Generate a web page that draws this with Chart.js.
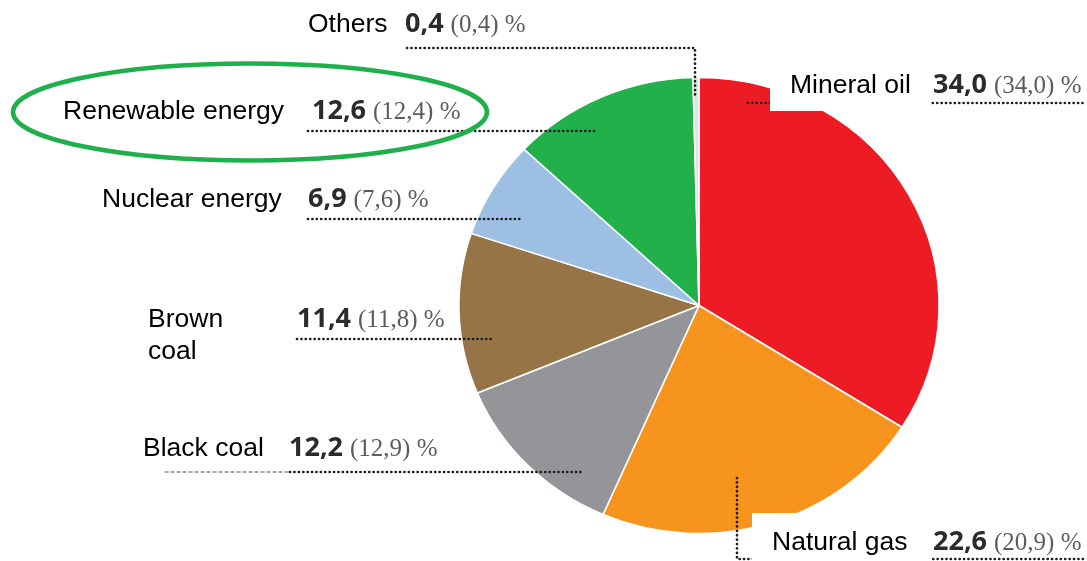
<!DOCTYPE html>
<html>
<head>
<meta charset="utf-8">
<script src="https://cdn.jsdelivr.net/npm/chart.js@4/dist/chart.umd.min.js"></script>
<style>
  html, body { margin: 0; padding: 0; background: #fff; }
  #wrap { position: relative; width: 1087px; height: 561px; }
</style>
</head>
<body>
<div id="wrap"><canvas id="c"></canvas></div>
<script>
// ---- data ----
const categories = ['Mineral oil', 'Natural gas', 'Black coal', 'Brown coal', 'Nuclear energy', 'Renewable energy', 'Others'];
const shares     = [34.0, 22.6, 12.2, 11.4, 6.9, 12.6, 0.4];
const previous   = [34.0, 20.9, 12.9, 11.8, 7.6, 12.4, 0.4];
const colors     = ['#ED1C24', '#F7941D', '#939598', '#967446', '#9DBFE3', '#22B04A', '#DDE0DD'];

// ---- layout of annotations (positions only) ----
const labelLayout = {
  'Mineral oil':      { lines: ['Mineral oil'], nx: 790, ny: 93, vx: 933, vy: 93,
                        leader: [[748,103],[1083,103]], box: [770, 64, 161, 47] },
  'Natural gas':      { lines: ['Natural gas'], nx: 772, ny: 550, vx: 933, vy: 550,
                        leader: [[737,478],[737,559],[1083,559]], box: [752, 513, 178, 48] },
  'Black coal':       { lines: ['Black coal'], nx: 143, ny: 456, vx: 289, vy: 456,
                        leader: [[290,472],[583,472]], faint: [[165,472],[290,472]] },
  'Brown coal':       { lines: ['Brown', 'coal'], nx: 148, ny: 327, vx: 297, vy: 327,
                        leader: [[297,339],[495,339]] },
  'Nuclear energy':   { lines: ['Nuclear energy'], nx: 102, ny: 207, vx: 308, vy: 207,
                        leader: [[308,219],[520,219]] },
  'Renewable energy': { lines: ['Renewable energy'], nx: 63, ny: 119, vx: 312, vy: 119,
                        leader: [[308,131],[598,131]] },
  'Others':           { lines: ['Others'], nx: 308, ny: 32, vx: 405, vy: 32,
                        leader: [[407,48],[695,48],[695,97]] }
};
const highlight = { cx: 250, cy: 112, rx: 237, ry: 48.5, color: '#1FB04B' };
const stretchX = 1.053;

const fmt = v => v.toFixed(1).replace('.', ',');

const stretchPlugin = {
  id: 'stretch',
  beforeDatasetsDraw(chart) {
    const ctx = chart.ctx;
    const arc = chart.getDatasetMeta(0).data[0];
    ctx.save();
    ctx.translate(arc.x, arc.y);
    ctx.scale(stretchX, 1);
    ctx.translate(-arc.x, -arc.y);
  },
  afterDatasetsDraw(chart) {
    chart.ctx.restore();
  }
};

function dotted(ctx, pts, color, width, dash) {
  ctx.save();
  ctx.strokeStyle = color;
  ctx.lineWidth = width;
  ctx.lineCap = 'round';
  ctx.setLineDash(dash);
  ctx.beginPath();
  ctx.moveTo(pts[0][0], pts[0][1]);
  for (let i = 1; i < pts.length; i++) ctx.lineTo(pts[i][0], pts[i][1]);
  ctx.stroke();
  ctx.restore();
}

const labelPlugin = {
  id: 'labels',
  afterDraw(chart) {
    const ctx = chart.ctx;
    categories.forEach((cat, i) => {
      const L = labelLayout[cat];
      if (L.faint) dotted(ctx, L.faint, '#8a8a8a', 1.3, [3, 3]);
      dotted(ctx, L.leader, '#1e1e1e', 2.7, [0.1, 4.3]);
      if (L.box) {
        ctx.fillStyle = '#ffffff';
        ctx.fillRect(L.box[0], L.box[1], L.box[2], L.box[3]);
      }
      ctx.save();
      ctx.textBaseline = 'alphabetic';
      ctx.textAlign = 'left';
      ctx.fillStyle = '#000000';
      ctx.font = '26.5px "Liberation Sans", Arial, sans-serif';
      L.lines.forEach((ln, k) => ctx.fillText(ln, L.nx, L.ny + k * 32));
      ctx.fillStyle = '#2b2b2b';
      ctx.font = 'bold 27px "Open Sans", "DejaVu Sans", sans-serif';
      const num = fmt(shares[i]);
      ctx.fillText(num, L.vx, L.vy);
      const w = ctx.measureText(num).width;
      ctx.fillStyle = '#5c5c5c';
      ctx.font = '25px "Liberation Serif", "DejaVu Serif", serif';
      ctx.fillText('(' + fmt(previous[i]) + ') %', L.vx + w + 7, L.vy);
      ctx.restore();
    });
    // green highlight ellipse
    ctx.save();
    ctx.strokeStyle = highlight.color;
    ctx.lineWidth = 4.5;
    ctx.beginPath();
    ctx.ellipse(highlight.cx, highlight.cy, highlight.rx, highlight.ry, 0, 0, Math.PI * 2);
    ctx.stroke();
    ctx.restore();
  }
};

new Chart(document.getElementById('c'), {
  type: 'pie',
  data: {
    labels: categories,
    datasets: [{
      data: shares,
      backgroundColor: colors,
      borderColor: '#ffffff',
      borderWidth: 1.5,
      hoverOffset: 0,
      offset: 0
    }]
  },
  options: {
    responsive: true,
    maintainAspectRatio: false,
    animation: false,
    devicePixelRatio: 1,
    radius: 228,
    layout: { padding: { left: 469, right: 158, top: 77, bottom: 27 } },
    plugins: {
      legend: { display: false },
      tooltip: { enabled: false }
    }
  },
  plugins: [stretchPlugin, labelPlugin]
});
</script>
</body>
</html>
